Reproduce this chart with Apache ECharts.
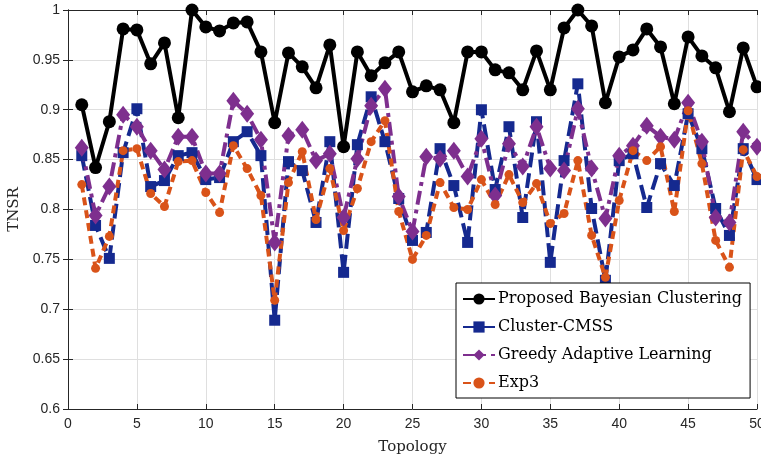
<!DOCTYPE html>
<html>
<head>
<meta charset="utf-8">
<script src="https://cdn.jsdelivr.net/npm/echarts@6/dist/echarts.min.js"></script>
<style>
html,body{margin:0;padding:0;background:#fff;}
#main{width:761px;height:460px;}
</style>
</head>
<body>
<div id="main"></div>
<script>
// topology index 1..50
var topology = [];
for (var t = 1; t <= 50; t++) topology.push(t);

var proposed = [0.905,0.842,0.888,0.981,0.980,0.946,0.967,0.892,1.000,0.983,
                0.979,0.987,0.988,0.958,0.887,0.957,0.943,0.922,0.965,0.863,
                0.958,0.934,0.947,0.958,0.918,0.924,0.920,0.887,0.958,0.958,
                0.940,0.937,0.920,0.959,0.920,0.982,1.000,0.984,0.907,0.953,
                0.960,0.981,0.963,0.906,0.973,0.954,0.942,0.898,0.962,0.923];

var cmss = [0.854,0.784,0.751,0.857,0.901,0.823,0.829,0.854,0.857,0.830,
            0.832,0.868,0.878,0.854,0.689,0.848,0.839,0.787,0.868,0.737,
            0.865,0.913,0.868,0.811,0.769,0.777,0.861,0.824,0.767,0.900,
            0.820,0.883,0.792,0.888,0.747,0.849,0.926,0.801,0.729,0.849,
            0.856,0.802,0.846,0.824,0.896,0.861,0.801,0.774,0.861,0.830];

var greedy = [0.862,0.794,0.823,0.895,0.883,0.859,0.840,0.873,0.873,0.836,
              0.836,0.909,0.896,0.870,0.767,0.874,0.880,0.849,0.856,0.792,
              0.851,0.904,0.921,0.813,0.778,0.853,0.851,0.859,0.833,0.871,
              0.814,0.866,0.843,0.883,0.841,0.839,0.901,0.841,0.791,0.854,
              0.864,0.884,0.873,0.870,0.907,0.868,0.792,0.787,0.878,0.863];

var exp3 = [0.825,0.741,0.773,0.859,0.861,0.816,0.803,0.848,0.849,0.817,
            0.797,0.864,0.841,0.814,0.709,0.827,0.858,0.790,0.841,0.779,
            0.821,0.868,0.889,0.798,0.750,0.774,0.827,0.802,0.800,0.830,
            0.805,0.835,0.807,0.826,0.786,0.796,0.849,0.774,0.732,0.809,
            0.859,0.849,0.863,0.798,0.899,0.846,0.769,0.742,0.860,0.833];

var names = ['Proposed Bayesian Clustering', 'Cluster-CMSS', 'Greedy Adaptive Learning', 'Exp3'];

function pairs(vals) {
    var out = [];
    for (var i = 0; i < vals.length; i++) out.push([topology[i], vals[i]]);
    return out;
}

var axisCol = '#262626';
var tickFont = {color: axisCol, fontSize: 14, fontFamily: 'Liberation Sans, Arial, sans-serif'};
var serif = 'DejaVu Serif, Liberation Serif, serif';

var myChart = echarts.init(document.getElementById('main'), null, {renderer: 'canvas'});
var option = {
    animation: false,
    backgroundColor: '#fff',
    grid: {left: 68, right: 4, top: 10, bottom: 51, show: false, containLabel: false, outerBoundsMode: 'none'},
    xAxis: [
        {
            type: 'value', min: 0, max: 50, interval: 5,
            name: 'Topology', nameLocation: 'middle', nameGap: 31,
            nameTextStyle: {fontFamily: serif, fontSize: 15, color: axisCol},
            axisLine: {lineStyle: {color: axisCol, width: 1}},
            axisTick: {inside: true, length: 5, lineStyle: {color: axisCol}},
            axisLabel: tickFont,
            splitLine: {show: true, lineStyle: {color: '#dfdfdf', width: 1}}
        },
        {
            type: 'value', min: 0, max: 50, interval: 5, position: 'top',
            axisLine: {lineStyle: {color: axisCol, width: 1}},
            axisTick: {inside: true, length: 5, lineStyle: {color: axisCol}},
            axisLabel: {show: false},
            splitLine: {show: false}
        }
    ],
    yAxis: [
        {
            type: 'value', min: 0.6, max: 1, interval: 0.05,
            name: 'TNSR', nameLocation: 'middle', nameGap: 44,
            nameTextStyle: {fontFamily: serif, fontSize: 15, color: axisCol},
            axisLine: {show: true, lineStyle: {color: axisCol, width: 1}},
            axisTick: {show: true, inside: true, length: 5, lineStyle: {color: axisCol}},
            axisLabel: tickFont,
            splitLine: {show: true, lineStyle: {color: '#dfdfdf', width: 1}}
        },
        {
            type: 'value', min: 0.6, max: 1, interval: 0.05, position: 'right',
            axisLine: {show: true, lineStyle: {color: axisCol, width: 1}},
            axisTick: {show: true, inside: true, length: 5, lineStyle: {color: axisCol}},
            axisLabel: {show: false},
            splitLine: {show: false}
        }
    ],
    legend: {
        orient: 'vertical',
        left: 456, top: 283,
        backgroundColor: '#fff',
        borderColor: '#000', borderWidth: 1, borderRadius: 0,
        padding: [7, 8, 6, 6],
        itemWidth: 32, itemHeight: 14, itemGap: 10,
        textStyle: {fontFamily: serif, fontSize: 16, lineHeight: 18, color: '#000', padding: [0, 0, 0, -2]},
        data: names
    },
    series: [
        {
            name: names[0], type: 'line', data: pairs(proposed),
            symbol: 'circle', symbolSize: 13,
            lineStyle: {color: '#000', width: 4},
            itemStyle: {color: '#000'}
        },
        {
            name: names[1], type: 'line', data: pairs(cmss),
            symbol: 'rect', symbolSize: 11,
            lineStyle: {color: '#15298f', width: 4, type: [15, 6]},
            itemStyle: {color: '#15298f'}
        },
        {
            name: names[2], type: 'line', data: pairs(greedy),
            symbol: 'diamond', symbolSize: [14, 18],
            lineStyle: {color: '#7e2f8e', width: 4, type: [14, 5, 4, 5]},
            itemStyle: {color: '#7e2f8e'}
        },
        {
            name: names[3], type: 'line', data: pairs(exp3),
            symbol: 'circle', symbolSize: 9,
            lineStyle: {color: '#d95319', width: 4, type: [8, 5]},
            itemStyle: {color: '#d95319'}
        }
    ]
};

// 加载
myChart.setOption(option);
</script>
</body>
</html>
